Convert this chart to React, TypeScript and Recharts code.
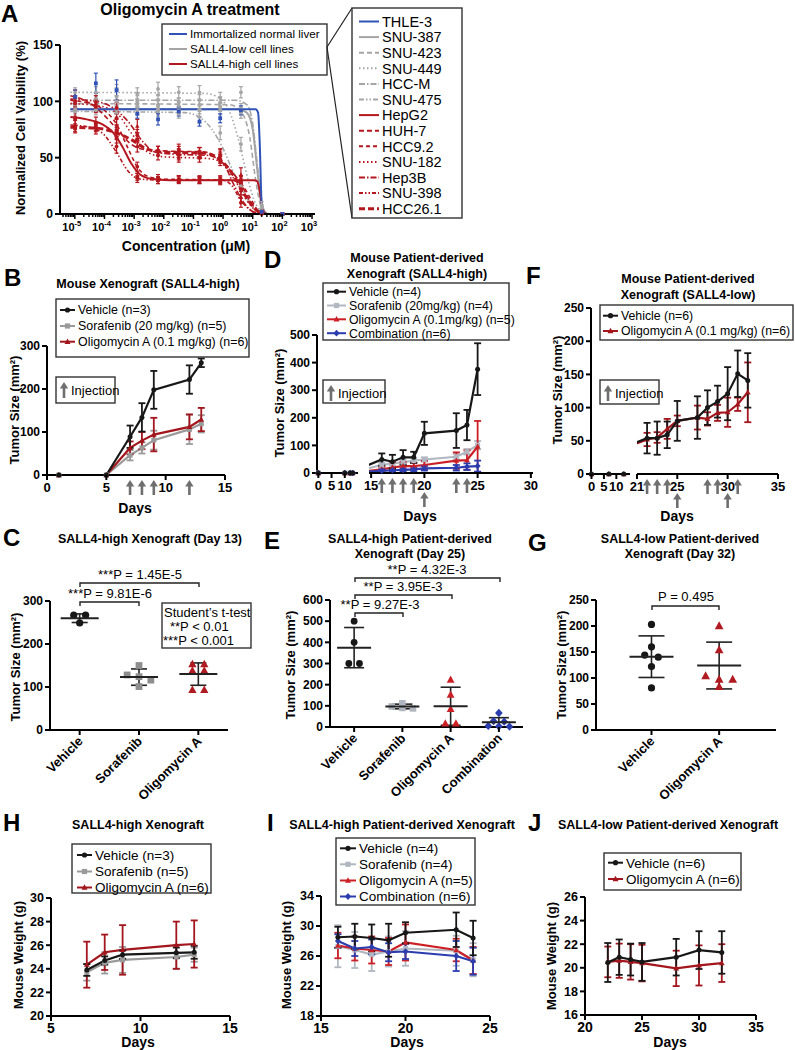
import React from 'react';
import {
  ComposedChart,
  LineChart,
  ScatterChart,
  Line,
  Scatter,
  XAxis,
  YAxis,
  ErrorBar,
} from 'recharts';

const FONT = '"Liberation Sans", Arial, Helvetica, sans-serif';

const INK = '#171717';
const GREY = '#9a9a9a';
const LIGHTGREY = '#b1b7c0';
const DARKRED = '#a3161d';
const RED = '#cc2027';
const BLUE = '#2b3dae';
const ARROW = '#6f6f6f';
const A_BLUE = '#3153b8';
const A_GREY = '#a5a5a5';
const A_RED = '#b5171f';

// ---------- A: dose response ----------
const concUM = [1.024e-5, 5.12e-5, 2.56e-4, 1.28e-3, 6.4e-3, 0.032, 0.16, 0.8, 4, 20, 100];
const aXMajor = [-5, -4, -3, -2, -1, 0, 1, 2, 3];
const aYTicks = [0, 50, 100, 150];

// viability (%) and SD at each concentration
const thle3 = [104, 116, 110, 89, 84, 91, 82, 85, 92, 2, 0];
const thle3Sd = [6, 9, 9, 4, 5, 4, 4, 4, 4, 1, 0];
const snu387 = [93, 96, 93, 92, 93, 92, 93, 92, 94, 5, 0];
const snu387Sd = [4, 5, 4, 3, 4, 3, 4, 4, 4, 2, 0];
const snu423 = [97, 99, 100, 98, 97, 96, 97, 95, 90, 3, 0];
const snu423Sd = [5, 6, 5, 4, 5, 4, 4, 4, 5, 2, 0];
const snu449 = [108, 108, 110, 107, 111, 108, 108, 103, 62, 2, 0];
const snu449Sd = [4, 5, 5, 5, 6, 5, 6, 5, 6, 1, 0];
const hccM = [100, 102, 104, 100, 101, 99, 101, 99, 108, 8, 0];
const hccMSd = [5, 6, 8, 5, 5, 4, 5, 5, 5, 3, 0];
const snu475 = [91, 92, 90, 92, 91, 89, 86, 72, 25, 2, 0];
const snu475Sd = [4, 4, 4, 4, 4, 4, 5, 6, 5, 1, 0];
const hepG2 = [85, 80, 68, 33, 30, 30, 31, 29, 30, 2, 0];
const hepG2Sd = [8, 6, 5, 3, 3, 3, 3, 3, 4, 1, 0];
const huh7 = [104, 95, 78, 60, 56, 57, 55, 52, 35, 1, 0];
const huh7Sd = [6, 5, 6, 5, 4, 5, 4, 6, 6, 1, 0];
const hcc92 = [100, 97, 85, 42, 32, 31, 30, 31, 29, 2, 0];
const hcc92Sd = [5, 5, 6, 4, 3, 3, 3, 3, 4, 1, 0];
const snu182 = [98, 96, 94, 70, 52, 50, 50, 48, 22, 1, 0];
const snu182Sd = [5, 5, 5, 5, 4, 4, 4, 5, 5, 1, 0];
const hep3B = [101, 100, 95, 78, 56, 53, 54, 50, 15, 1, 0];
const hep3BSd = [4, 5, 6, 6, 4, 5, 5, 5, 5, 1, 0];
const snu398 = [78, 76, 60, 32, 30, 31, 30, 30, 10, 0, 0];
const snu398Sd = [5, 5, 6, 4, 3, 3, 3, 3, 4, 0, 0];
const hcc261 = [76, 77, 74, 66, 56, 56, 55, 52, 28, 1, 0];
const hcc261Sd = [4, 4, 5, 6, 4, 4, 4, 5, 6, 1, 0];

// fitted curves: [log10(µM), %]
const fitThle3 = [[-5.15, 93], [1.1, 93], [1.18, 90], [1.24, 60], [1.29, 15], [1.34, 2], [1.45, 0], [2.05, 0]];
const fitSnu387 = [[-5.15, 93], [0.5, 93], [0.8, 90], [1.0, 75], [1.15, 40], [1.3, 8], [1.5, 0]];
const fitSnu423 = [[-5.15, 98], [0.2, 97], [0.6, 91], [0.9, 68], [1.1, 30], [1.3, 5], [1.5, 0]];
const fitSnu449 = [[-5.15, 108], [-0.6, 107], [-0.2, 104], [0.2, 92], [0.5, 68], [0.8, 35], [1.05, 12], [1.3, 2], [1.5, 0]];
const fitHccM = [[-5.15, 101], [0.4, 101], [0.8, 97], [1.0, 80], [1.15, 45], [1.3, 12], [1.45, 0]];
const fitSnu475 = [[-5.15, 91], [-1.3, 90], [-0.8, 86], [-0.4, 76], [0, 58], [0.3, 40], [0.6, 24], [0.9, 10], [1.2, 2], [1.4, 0]];
const fitHepG2 = [[-5.15, 86], [-4.6, 84], [-4.1, 80], [-3.7, 72], [-3.4, 60], [-3.1, 45], [-2.8, 35], [-2.4, 31], [-1.8, 30], [1.05, 30], [1.15, 29], [1.25, 18], [1.33, 4], [1.45, 0]];
const fitHuh7 = [[-5.15, 105], [-4.6, 100], [-4.1, 90], [-3.6, 76], [-3.1, 62], [-2.6, 57], [-2, 56], [-0.6, 55], [-0.2, 50], [0.2, 40], [0.6, 27], [0.9, 12], [1.2, 2], [1.4, 0]];
const fitHcc92 = [[-5.15, 101], [-4.5, 98], [-4, 92], [-3.6, 80], [-3.2, 58], [-2.9, 42], [-2.5, 33], [-2, 31], [0.3, 30], [0.6, 27], [0.9, 15], [1.15, 4], [1.35, 0]];
const fitSnu182 = [[-5.15, 98], [-4.2, 96], [-3.6, 90], [-3.1, 72], [-2.6, 56], [-2.1, 51], [-0.4, 49], [0, 44], [0.4, 30], [0.8, 12], [1.1, 3], [1.3, 0]];
const fitHep3B = [[-5.15, 102], [-4.3, 100], [-3.7, 94], [-3.2, 82], [-2.7, 64], [-2.3, 55], [-1.6, 53], [-0.5, 52], [0, 45], [0.4, 24], [0.7, 10], [1, 2], [1.2, 0]];
const fitSnu398 = [[-5.15, 79], [-4.5, 77], [-4, 70], [-3.6, 55], [-3.2, 38], [-2.8, 31], [-2, 30], [0, 30], [0.3, 25], [0.6, 12], [0.9, 4], [1.2, 0]];
const fitHcc261 = [[-5.15, 77], [-4.2, 76], [-3.6, 72], [-3.1, 66], [-2.6, 58], [-2.1, 55], [-0.6, 54], [-0.2, 50], [0.2, 40], [0.5, 28], [0.8, 14], [1.1, 4], [1.3, 0]];

const aLines = [
  { name: 'THLE-3', vals: thle3, sd: thle3Sd, fit: fitThle3, color: A_BLUE, dash: undefined, w: 2, kind: 'square' },
  { name: 'SNU-387', vals: snu387, sd: snu387Sd, fit: fitSnu387, color: A_GREY, dash: undefined, w: 2, kind: 'circle' },
  { name: 'SNU-423', vals: snu423, sd: snu423Sd, fit: fitSnu423, color: A_GREY, dash: '5 3', w: 1.6, kind: 'circle' },
  { name: 'SNU-449', vals: snu449, sd: snu449Sd, fit: fitSnu449, color: A_GREY, dash: '1.5 2.5', w: 1.6, kind: 'circle' },
  { name: 'HCC-M', vals: hccM, sd: hccMSd, fit: fitHccM, color: A_GREY, dash: '6 2 1.5 2', w: 1.6, kind: 'circle' },
  { name: 'SNU-475', vals: snu475, sd: snu475Sd, fit: fitSnu475, color: A_GREY, dash: '5 2 1.5 2 1.5 2', w: 1.6, kind: 'circle' },
  { name: 'HepG2', vals: hepG2, sd: hepG2Sd, fit: fitHepG2, color: A_RED, dash: undefined, w: 2, kind: 'square' },
  { name: 'HUH-7', vals: huh7, sd: huh7Sd, fit: fitHuh7, color: A_RED, dash: '5 3', w: 1.6, kind: 'triangle' },
  { name: 'HCC9.2', vals: hcc92, sd: hcc92Sd, fit: fitHcc92, color: A_RED, dash: '4 3', w: 1.6, kind: 'circle' },
  { name: 'SNU-182', vals: snu182, sd: snu182Sd, fit: fitSnu182, color: A_RED, dash: '1.5 2.5', w: 1.6, kind: 'circle' },
  { name: 'Hep3B', vals: hep3B, sd: hep3BSd, fit: fitHep3B, color: A_RED, dash: '6 2 1.5 2', w: 1.6, kind: 'triangle' },
  { name: 'SNU-398', vals: snu398, sd: snu398Sd, fit: fitSnu398, color: A_RED, dash: '4 2 1.5 2 1.5 2', w: 1.6, kind: 'circle' },
  { name: 'HCC26.1', vals: hcc261, sd: hcc261Sd, fit: fitHcc261, color: A_RED, dash: '6 3', w: 3, kind: 'square' },
];

// ---------- B ----------
const bDays = [1, 5, 7, 8, 9, 12, 13];
const bVehicle = [0, 0, 89, 134, 198, 222, 261];
const bVehicleSd = [0, 0, 26, 33, 44, 33, 10];
const bSorafenib = [0, 0, 46, 63, 81, 106, 119];
const bSorafenibSd = [0, 0, 12, 13, 22, 34, 20];
const bOligomycin = [0, 0, 63, 80, 94, 112, 129];
const bOligomycinSd = [0, 0, 15, 20, 39, 29, 27];
const bInjections = [7, 8, 9, 12];

// ---------- D ----------
const dDays = [0, 10, 12, 13, 16, 17, 18, 19, 20, 23, 24, 25];
const dVehicle = [0, 0, 0, 0, 48, 40, 56, 56, 143, 153, 173, 376];
const dVehicleSd = [0, 0, 0, 0, 22, 25, 26, 20, 42, 63, 55, 94];
const dSorafenib = [0, 0, 0, 0, 28, 34, 38, 44, 48, 58, 76, 100];
const dSorafenibSd = [0, 0, 0, 0, 8, 8, 8, 8, 8, 10, 10, 15];
const dOligomycin = [0, 0, 0, 0, 12, 19, 24, 24, 28, 44, 46, 95];
const dOligomycinSd = [0, 0, 0, 0, 10, 20, 15, 12, 15, 30, 35, 93];
const dCombination = [0, 0, 0, 0, 7, 9, 10, 12, 16, 18, 22, 24];
const dCombinationSd = [0, 0, 0, 0, 5, 6, 6, 6, 8, 10, 12, 20];
const dInjections = [16, 17, 18, 19, 23, 24];
const dInjectionsLow = [20];

// ---------- F ----------
const fDays = [0, 7, 13, 22, 23, 24, 25, 27, 28, 29, 30, 31, 32];
const fVehicle = [0, 0, 0, 54, 54, 59, 80, 85, 100, 109, 121, 151, 141];
const fVehicleSd = [0, 0, 0, 23, 25, 20, 30, 32, 26, 24, 40, 35, 41];
const fOligomycin = [0, 0, 0, 52, 55, 68, 80, 85, 83, 92, 93, 105, 123];
const fOligomycinSd = [0, 0, 0, 10, 8, 15, 8, 18, 10, 12, 22, 10, 45];
const fInjections = [22, 23, 24, 28, 29, 31];
const fInjectionsLow = [25, 30];

// ---------- C / E / G ----------
const cGroups = ['Vehicle', 'Sorafenib', 'Oligomycin A'];
const cVehicle = [267, 267, 249];
const cSorafenib = [150, 128, 124, 116, 101];
const cOligomycin = [153, 153, 138, 138, 93, 93];
const cMean = [260, 123, 130];
const cSd = [10, 19, 26];

const eGroups = ['Vehicle', 'Sorafenib', 'Oligomycin A', 'Combination'];
const eVehicle = [500, 400, 300, 300];
const eSorafenib = [112, 97, 90, 88];
const eOligomycin = [223, 152, 85, 16, 16];
const eCombination = [66, 28, 25, 5, 3, 2];
const eMean = [375, 97, 98, 22];
const eSd = [95, 11, 90, 22];

const gGroups = ['Vehicle', 'Oligomycin A'];
const gVehicle = [203, 160, 144, 140, 122, 81];
const gOligomycin = [200, 154, 104, 97, 97, 83];
const gMean = [141, 124];
const gSd = [40, 45];

// ---------- H / I / J ----------
const hDays = [7, 8, 9, 12, 13];
const hVehicle = [23.9, 24.7, 25.2, 25.35, 25.4];
const hVehicleSd = [0.5, 0.35, 0.35, 0.45, 0.55];
const hSorafenib = [23.7, 24.5, 24.75, 25.0, 25.2];
const hSorafenibSd = [0.7, 0.9, 1.1, 1.0, 0.6];
const hOligomycin = [24.35, 25.4, 25.6, 26.0, 26.1];
const hOligomycinSd = [1.95, 1.5, 2.1, 2.0, 2.0];

const iDays = [16, 17, 18, 19, 20, 23, 24];
const iVehicle = [28.5, 28.6, 28.4, 28.1, 29.1, 29.5, 28.4];
const iVehicleSd = [1.4, 1.7, 1.8, 2.2, 1.4, 2.3, 2.3];
const iSorafenib = [27.3, 26.8, 26.2, 26.6, 27.0, 26.7, 25.5];
const iSorafenibSd = [2.8, 2.4, 2.2, 2.0, 2.3, 2.0, 2.2];
const iOligomycin = [27.4, 27.0, 26.8, 26.6, 27.8, 26.8, 25.4];
const iOligomycinSd = [1.7, 1.6, 1.8, 1.8, 2.4, 1.5, 1.8];
const iCombination = [28.0, 27.0, 27.2, 26.5, 26.6, 26.0, 25.3];
const iCombinationSd = [0.9, 1.0, 1.0, 1.2, 1.0, 2.0, 1.8];

const jDays = [22, 23, 24, 25, 28, 30, 32];
const jVehicle = [20.45, 20.9, 20.7, 20.5, 20.9, 21.5, 21.3];
const jVehicleSd = [1.65, 1.5, 1.35, 1.6, 1.55, 1.6, 1.8];
const jOligomycin = [20.5, 20.6, 20.5, 20.4, 19.95, 20.2, 20.4];
const jOligomycinSd = [1.3, 1.45, 1.5, 1.55, 1.5, 1.7, 1.6];

// ---------- tables ----------
const bRows = bDays.map((day, i) => ({
  day, veh: bVehicle[i], vehE: bVehicleSd[i], sor: bSorafenib[i], sorE: bSorafenibSd[i], oli: bOligomycin[i], oliE: bOligomycinSd[i],
}));
const dRows = dDays.map((day, i) => ({
  day, veh: dVehicle[i], vehE: dVehicleSd[i], sor: dSorafenib[i], sorE: dSorafenibSd[i],
  oli: dOligomycin[i], oliE: dOligomycinSd[i], com: dCombination[i], comE: dCombinationSd[i],
}));
const fRows = fDays.map((day, i) => ({
  day, veh: fVehicle[i], vehE: fVehicleSd[i], oli: fOligomycin[i], oliE: fOligomycinSd[i],
}));
const hRows = hDays.map((day, i) => ({
  day, veh: hVehicle[i], vehE: hVehicleSd[i], sor: hSorafenib[i], sorE: hSorafenibSd[i], oli: hOligomycin[i], oliE: hOligomycinSd[i],
}));
const iRows = iDays.map((day, i) => ({
  day, veh: iVehicle[i], vehE: iVehicleSd[i], sor: iSorafenib[i], sorE: iSorafenibSd[i],
  oli: iOligomycin[i], oliE: iOligomycinSd[i], com: iCombination[i], comE: iCombinationSd[i],
}));
const jRows = jDays.map((day, i) => ({
  day, veh: jVehicle[i], vehE: jVehicleSd[i], oli: jOligomycin[i], oliE: jOligomycinSd[i],
}));

// ---------- layout helpers ----------
const YW = 40;
const MT = 10;
const MR = 10;
function frame(l, t, r, b, xh = 44, hideY = false) {
  return {
    left: l - YW,
    top: t - MT,
    width: r - l + YW + MR,
    height: b - t + MT + xh,
    xh,
    margin: { top: MT, right: MR, bottom: 0, left: hideY ? YW : 0 },
  };
}

const AXIS = { stroke: '#000', strokeWidth: 2 };
const ytick = (s = 12) => ({ fill: '#000', fontSize: s, fontWeight: 700, fontFamily: FONT });

function Marker({ kind, cx, cy, color, s = 2.6 }: any) {
  if (cx == null || cy == null || isNaN(cx) || isNaN(cy)) return null;
  if (kind === 'square') return <rect x={cx - s} y={cy - s} width={2 * s} height={2 * s} fill={color} />;
  if (kind === 'triangle')
    return (
      <polygon
        points={`${cx},${cy - s * 1.25} ${cx - s * 1.15},${cy + s * 0.85} ${cx + s * 1.15},${cy + s * 0.85}`}
        fill={color}
      />
    );
  if (kind === 'diamond')
    return <polygon points={`${cx},${cy - s * 1.3} ${cx + s * 1.2},${cy} ${cx},${cy + s * 1.3} ${cx - s * 1.2},${cy}`} fill={color} />;
  return <circle cx={cx} cy={cy} r={s} fill={color} />;
}

function Arrow({ x, y1, y2 }: any) {
  return (
    <g>
      <line x1={x} x2={x} y1={y1 + 5} y2={y2} stroke={ARROW} strokeWidth={2.6} />
      <polygon points={`${x},${y1} ${x - 4.2},${y1 + 6.5} ${x + 4.2},${y1 + 6.5}`} fill={ARROW} />
    </g>
  );
}

function dayTick(labels: number[], inj: number[] = [], low: number[] = [], fs = 13) {
  return (p: any) => {
    const { x, payload } = p;
    const v = payload.value;
    const ay = p.y - 5;
    const isLabel = labels.includes(v);
    return (
      <g>
        {isLabel && <line x1={x} x2={x} y1={ay} y2={ay + 5} stroke="#000" strokeWidth={2} />}
        {isLabel && (
          <text x={x} y={ay + 16.5} textAnchor="middle" fontSize={fs} fontWeight={700} fill="#000" fontFamily={FONT}>
            {v}
          </text>
        )}
        {inj.includes(v) && <Arrow x={x} y1={ay + 5} y2={ay + 20} />}
        {low.includes(v) && <Arrow x={x} y1={ay + 19} y2={ay + 34} />}
      </g>
    );
  };
}

function logTick(p: any) {
  const { x, payload } = p;
  const v = payload.value;
  const ay = p.y - 5;
  const major = Math.abs(v - Math.round(v)) < 1e-6;
  return (
    <g>
      <line x1={x} x2={x} y1={ay} y2={ay + (major ? 5 : 3)} stroke="#000" strokeWidth={1.5} />
      {major && (
        <text x={x - 3} y={ay + 17} textAnchor="middle" fontSize={11} fontWeight={700} fill="#000" fontFamily={FONT}>
          10
          <tspan dy={-5} fontSize={7.5}>
            {Math.round(v)}
          </tspan>
        </text>
      )}
    </g>
  );
}

function catTick(names: string[], fs = 13) {
  return (p: any) => {
    const { x, payload } = p;
    const ay = p.y - 5;
    const name = names[Math.round(payload.value) - 1];
    const tx = x + 4;
    const ty = ay + 12;
    return (
      <g>
        <line x1={x} x2={x} y1={ay} y2={ay + 5} stroke="#000" strokeWidth={2} />
        <text x={tx} y={ty} transform={`rotate(-45 ${tx} ${ty})`} textAnchor="end" fontSize={fs} fontWeight={700} fill="#000" fontFamily={FONT}>
          {name}
        </text>
      </g>
    );
  };
}

// places equal-ish values side by side, the way a dot plot does
function spread(vals: number[], g: number, tol: number, step: number) {
  const used = vals.map(() => false);
  const out: any[] = [];
  vals.forEach((v, i) => {
    if (used[i]) return;
    const cl = vals.map((_, j) => j).filter((j) => !used[j] && Math.abs(vals[j] - v) <= tol);
    cl.forEach((j, k) => {
      used[j] = true;
      out.push({ x: g + (k - (cl.length - 1) / 2) * step, y: vals[j] });
    });
  });
  return out;
}

function TimeChart({ f, data, series, xDomain, ticks, tick, yDomain, yTicks, hideY = false, clip = false, ys = 12 }: any) {
  return (
    <div style={{ position: 'absolute', left: f.left, top: f.top }}>
      <LineChart width={f.width} height={f.height} data={data} margin={f.margin}>
        <XAxis
          type="number"
          dataKey="day"
          domain={xDomain}
          ticks={ticks}
          interval={0}
          tick={tick}
          tickLine={false}
          tickSize={5}
          tickMargin={0}
          axisLine={AXIS}
          height={f.xh}
          allowDataOverflow={clip}
        />
        <YAxis
          type="number"
          domain={yDomain}
          ticks={yTicks}
          interval={0}
          width={YW}
          hide={hideY}
          tick={ytick(ys)}
          tickSize={5}
          tickMargin={2}
          tickLine={AXIS}
          axisLine={AXIS}
        />
        {series.map((s: any) => (
          <Line
            key={s.key}
            dataKey={s.key}
            stroke={s.color}
            strokeWidth={2.2}
            isAnimationActive={false}
            dot={(p: any) => <Marker key={`${s.key}-${p.index}`} kind={s.kind} cx={p.cx} cy={p.cy} color={s.color} s={2.5} />}
            activeDot={false}
          >
            <ErrorBar dataKey={s.err} width={3.5} stroke={s.color} strokeWidth={1.8} direction="y" />
          </Line>
        ))}
      </LineChart>
    </div>
  );
}

function DotPlot({ f, names, xDomain, yDomain, yTicks, groups, means, sds, tol, step, meanHalf, capHalf }: any) {
  const meanRows = means.map((m: number, i: number) => ({ x: i + 1, y: m, sd: sds[i] }));
  return (
    <div style={{ position: 'absolute', left: f.left, top: f.top }}>
      <ScatterChart width={f.width} height={f.height} margin={f.margin}>
        <XAxis
          type="number"
          dataKey="x"
          domain={xDomain}
          ticks={names.map((_: any, i: number) => i + 1)}
          interval={0}
          tick={catTick(names)}
          tickLine={false}
          tickSize={5}
          tickMargin={0}
          axisLine={AXIS}
          height={f.xh}
        />
        <YAxis
          type="number"
          dataKey="y"
          domain={yDomain}
          ticks={yTicks}
          interval={0}
          width={YW}
          tick={ytick(12)}
          tickSize={5}
          tickMargin={2}
          tickLine={AXIS}
          axisLine={AXIS}
        />
        {groups.map((g: any, i: number) => (
          <Scatter
            key={names[i]}
            data={spread(g.vals, i + 1, tol, step)}
            isAnimationActive={false}
            shape={(p: any) => <Marker kind={g.kind} cx={p.cx} cy={p.cy} color={g.color} s={g.s} />}
          />
        ))}
        <Scatter
          data={meanRows}
          isAnimationActive={false}
          shape={(p: any) => (
            <line x1={p.cx - meanHalf} x2={p.cx + meanHalf} y1={p.cy} y2={p.cy} stroke="#222" strokeWidth={2} />
          )}
        >
          <ErrorBar dataKey="sd" direction="y" width={capHalf} stroke="#222" strokeWidth={1.6} />
        </Scatter>
      </ScatterChart>
    </div>
  );
}

function PanelA() {
  const f = frame(60, 45, 315, 214, 40);
  const minor: number[] = [];
  for (let e = -6; e < 4; e++) {
    for (let k = 2; k <= 9; k++) {
      const v = e + Math.log10(k);
      if (v > -5.5 && v < 3.1) minor.push(v);
    }
  }
  const drawOrder = [...aLines.slice(1, 6), ...aLines.slice(6), aLines[0]];
  return (
    <div style={{ position: 'absolute', left: f.left, top: f.top }}>
      <ComposedChart width={f.width} height={f.height} margin={f.margin}>
        <XAxis
          type="number"
          dataKey="x"
          domain={[-5.5, 3.1]}
          ticks={[...aXMajor, ...minor]}
          interval={0}
          tick={logTick}
          tickLine={false}
          tickSize={5}
          tickMargin={0}
          axisLine={AXIS}
          height={f.xh}
        />
        <YAxis
          type="number"
          dataKey="y"
          domain={[0, 150]}
          ticks={aYTicks}
          interval={0}
          width={YW}
          tick={ytick(12)}
          tickSize={5}
          tickMargin={2}
          tickLine={AXIS}
          axisLine={AXIS}
        />
        {drawOrder.map((c) => (
          <Line
            key={`fit-${c.name}`}
            data={c.fit.map(([x, y]) => ({ x, y }))}
            dataKey="y"
            type="monotone"
            stroke={c.color}
            strokeWidth={c.w}
            strokeDasharray={c.dash}
            dot={false}
            activeDot={false}
            isAnimationActive={false}
          />
        ))}
        {drawOrder.map((c) => (
          <Scatter
            key={`pts-${c.name}`}
            data={concUM.map((u, i) => ({ x: Math.log10(u), y: c.vals[i], e: c.sd[i] }))}
            dataKey="y"
            isAnimationActive={false}
            shape={(p: any) => <Marker kind={c.kind} cx={p.cx} cy={p.cy} color={c.color} s={1.9} />}
          >
            <ErrorBar dataKey="e" direction="y" width={2} stroke={c.color} strokeWidth={1.2} />
          </Scatter>
        ))}
      </ComposedChart>
    </div>
  );
}

// ---------- overlay text ----------
function T({ x, y, s = 12.5, b = true, a = 'middle', r = 0, c = '#000', children }: any) {
  return (
    <text
      x={x}
      y={y}
      fontSize={s}
      fontWeight={b ? 700 : 400}
      textAnchor={a}
      fill={c}
      fontFamily={FONT}
      transform={r ? `rotate(${r} ${x} ${y})` : undefined}
    >
      {children}
    </text>
  );
}

function Row({ x, y, w, color, kind, label, s = 13, dash, lw = 2 }: any) {
  return (
    <g>
      <line x1={x} x2={x + w} y1={y} y2={y} stroke={color} strokeWidth={lw} strokeDasharray={dash} />
      {kind && <Marker kind={kind} cx={x + w / 2} cy={y} color={color} s={2.6} />}
      <T x={x + w + 3} y={y + s * 0.36} s={s} b={false} a="start">
        {label}
      </T>
    </g>
  );
}

function Box({ x1, y1, x2, y2 }: any) {
  return <rect x={x1} y={y1} width={x2 - x1} height={y2 - y1} fill="#fff" stroke="#333" strokeWidth={1.4} />;
}

function Bracket({ x1, x2, y, d = 4 }: any) {
  return <path d={`M${x1},${y + d} V${y} H${x2} V${y + d}`} fill="none" stroke="#222" strokeWidth={1.4} />;
}

function InjectionBox({ x1, y1, x2, y2 }: any) {
  return (
    <g>
      <Box x1={x1} y1={y1} x2={x2} y2={y2} />
      <Arrow x={x1 + 8} y1={y1 + 5} y2={y1 + 21} />
      <T x={x1 + 15} y={y1 + 17.5} s={13} b={false} a="start">
        Injection
      </T>
    </g>
  );
}

function Overlay() {
  const aRowY = (i: number) => 21.5 + i * 15.6;
  return (
    <svg
      width={795}
      height={1050}
      style={{ position: 'absolute', left: 0, top: 0, pointerEvents: 'none', zIndex: 5 }}
      fontFamily={FONT}
    >
      {/* panel letters */}
      <T x={1} y={22} s={24} a="start">A</T>
      <T x={4} y={286} s={24} a="start">B</T>
      <T x={264} y={268} s={24} a="start">D</T>
      <T x={526} y={284} s={24} a="start">F</T>
      <T x={3} y={546} s={24} a="start">C</T>
      <T x={264} y={549} s={24} a="start">E</T>
      <T x={528} y={551} s={24} a="start">G</T>
      <T x={3} y={831} s={24} a="start">H</T>
      <T x={267} y={831} s={24} a="start">I</T>
      <T x={528} y={831} s={24} a="start">J</T>

      {/* A */}
      <T x={190} y={15} s={16}>Oligomycin A treatment</T>
      <T x={25} y={128} s={13} r={-90}>Normalized Cell Vaibility (%)</T>
      <T x={186} y={251} s={14}>Concentration (μM)</T>
      <Box x1={162} y1={24} x2={327} y2={75} />
      <Row x={169} y={34} w={18} color={A_BLUE} label="Immortalized normal liver" s={11.6} />
      <Row x={169} y={49} w={18} color={A_GREY} label="SALL4-low cell lines" s={11.6} />
      <Row x={169} y={64} w={18} color={A_RED} label="SALL4-high cell lines" s={11.6} />
      <line x1={327} y1={47} x2={352} y2={8} stroke="#222" strokeWidth={1.2} />
      <line x1={327} y1={47} x2={352} y2={218} stroke="#222" strokeWidth={1.2} />
      <Box x1={352} y1={8} x2={462} y2={218} />
      {aLines.map((c, i) => (
        <Row key={c.name} x={359} y={aRowY(i)} w={20} color={c.color} label={c.name} s={14.5} dash={c.dash} lw={c.w === 3 ? 3 : 2} />
      ))}

      {/* B */}
      <T x={148} y={288}>Mouse Xenograft (SALL4-high)</T>
      <T x={19} y={410} s={13} r={-90}>Tumor Size (mm²)</T>
      <T x={135} y={513} s={14}>Days</T>
      <Box x1={56} y1={299} x2={249} y2={357} />
      <Row x={60} y={310} w={15} color={INK} kind="circle" label="Vehicle (n=3)" s={12.4} />
      <Row x={60} y={326} w={15} color={GREY} kind="square" label="Sorafenib (20 mg/kg) (n=5)" s={12.4} />
      <Row x={60} y={341.7} w={15} color={DARKRED} kind="triangle" label="Oligomycin A (0.1 mg/kg) (n=6)" s={12.4} />
      <InjectionBox x1={56} y1={377} x2={115} y2={403} />

      {/* D */}
      <T x={417} y={262}>Mouse Patient-derived</T>
      <T x={417} y={278}>Xenograft (SALL4-high)</T>
      <T x={284} y={403} s={13} r={-90}>Tumor Size (mm²)</T>
      <T x={420} y={521} s={14}>Days</T>
      <Box x1={323} y1={283} x2={509} y2={340} />
      <Row x={327} y={291.7} w={19} color={INK} kind="circle" label="Vehicle (n=4)" s={12.3} />
      <Row x={327} y={305.5} w={19} color={LIGHTGREY} kind="square" label="Sorafenib (20mg/kg) (n=4)" s={12.3} />
      <Row x={327} y={319.3} w={19} color={RED} kind="triangle" label="Oligomycin A (0.1mg/kg) (n=5)" s={12.3} />
      <Row x={327} y={333.2} w={19} color={BLUE} kind="diamond" label="Combination (n=6)" s={12.3} />
      <InjectionBox x1={323} y1={380} x2={385} y2={403} />

      {/* F */}
      <T x={688} y={283}>Mouse Patient-derived</T>
      <T x={688} y={299}>Xenograft (SALL4-low)</T>
      <T x={562} y={390} s={13} r={-90}>Tumor Size (mm²)</T>
      <T x={677} y={521} s={14}>Days</T>
      <Box x1={600} y1={305} x2={793} y2={340} />
      <Row x={603} y={315.7} w={15} color={INK} kind="circle" label="Vehicle (n=6)" s={12.3} />
      <Row x={603} y={331} w={15} color={DARKRED} kind="triangle" label="Oligomycin A (0.1 mg/kg) (n=6)" s={12.3} />
      <InjectionBox x1={600} y1={380} x2={659} y2={404} />

      {/* C */}
      <T x={150} y={543}>SALL4-high Xenograft (Day 13)</T>
      <T x={20} y={667} s={13} r={-90}>Tumor Size (mm²)</T>
      <Bracket x1={80} x2={199} y={583} />
      <T x={140} y={579} s={13} b={false}>***P = 1.45E-5</T>
      <Bracket x1={80} x2={139} y={602} />
      <T x={110} y={598} s={13} b={false}>***P = 9.81E-6</T>
      <Box x1={162} y1={603} x2={251} y2={648} />
      <T x={164} y={617} s={13} b={false} a="start">Student’s t-test</T>
      <T x={170} y={631} s={13} b={false} a="start">**P &lt; 0.01</T>
      <T x={163} y={645} s={13} b={false} a="start">***P &lt; 0.001</T>

      {/* E */}
      <T x={410} y={543}>SALL4-high Patient-derived</T>
      <T x={410} y={558}>Xenograft (Day 25)</T>
      <T x={295} y={665} s={13} r={-90}>Tumor Size (mm²)</T>
      <Bracket x1={355} x2={500} y={578} />
      <T x={427} y={574} s={13} b={false}>**P = 4.32E-3</T>
      <Bracket x1={355} x2={452} y={595} />
      <T x={403} y={591} s={13} b={false}>**P = 3.95E-3</T>
      <Bracket x1={355} x2={403} y={613} />
      <T x={380} y={609} s={13} b={false}>**P = 9.27E-3</T>

      {/* G */}
      <T x={680} y={543}>SALL4-low Patient-derived</T>
      <T x={680} y={558}>Xenograft (Day 32)</T>
      <T x={566} y={665} s={13} r={-90}>Tumor Size (mm²)</T>
      <Bracket x1={652} x2={719} y={606} />
      <T x={686} y={601} s={13} b={false}>P = 0.495</T>

      {/* H */}
      <T x={138} y={829}>SALL4-high Xenograft</T>
      <T x={23} y={955} s={13} r={-90}>Mouse Weight (g)</T>
      <T x={138} y={1047} s={14}>Days</T>
      <Box x1={72} y1={844} x2={211} y2={893} />
      <Row x={77} y={855} w={15} color={INK} kind="circle" label="Vehicle (n=3)" s={13.5} />
      <Row x={77} y={871.5} w={15} color={GREY} kind="square" label="Sorafenib (n=5)" s={13.5} />
      <Row x={77} y={887.5} w={15} color={DARKRED} kind="triangle" label="Oligomycin A (n=6)" s={13.5} />

      {/* I */}
      <T x={402} y={829}>SALL4-high Patient-derived Xenograft</T>
      <T x={291} y={955} s={13} r={-90}>Mouse Weight (g)</T>
      <T x={407} y={1047} s={14}>Days</T>
      <Box x1={336} y1={838} x2={475} y2={905} />
      <Row x={340} y={848.3} w={16} color={INK} kind="circle" label="Vehicle (n=4)" s={13.5} />
      <Row x={340} y={864.3} w={16} color={LIGHTGREY} kind="square" label="Sorafenib (n=4)" s={13.5} />
      <Row x={340} y={880.5} w={16} color={RED} kind="triangle" label="Oligomycin A (n=5)" s={13.5} />
      <Row x={340} y={896.5} w={16} color={BLUE} kind="diamond" label="Combination (n=6)" s={13.5} />

      {/* J */}
      <T x={668} y={829}>SALL4-low Patient-derived Xenograft</T>
      <T x={556} y={956} s={13} r={-90}>Mouse Weight (g)</T>
      <T x={670} y={1047} s={14}>Days</T>
      <Box x1={604} y1={853} x2={741} y2={890} />
      <Row x={608} y={862.7} w={15} color={INK} kind="circle" label="Vehicle (n=6)" s={13.5} />
      <Row x={608} y={879} w={15} color={DARKRED} kind="triangle" label="Oligomycin A (n=6)" s={13.5} />
    </svg>
  );
}

const bSeries = [
  { key: 'sor', err: 'sorE', color: GREY, kind: 'square' },
  { key: 'oli', err: 'oliE', color: DARKRED, kind: 'triangle' },
  { key: 'veh', err: 'vehE', color: INK, kind: 'circle' },
];
const dSeries = [
  { key: 'sor', err: 'sorE', color: LIGHTGREY, kind: 'square' },
  { key: 'oli', err: 'oliE', color: RED, kind: 'triangle' },
  { key: 'com', err: 'comE', color: BLUE, kind: 'diamond' },
  { key: 'veh', err: 'vehE', color: INK, kind: 'circle' },
];
const fSeries = [
  { key: 'oli', err: 'oliE', color: DARKRED, kind: 'triangle' },
  { key: 'veh', err: 'vehE', color: INK, kind: 'circle' },
];

export default function App() {
  return (
    <div
      style={{ position: 'absolute', left: 0, top: 0, width: 795, height: 1050, background: '#fff', overflow: 'hidden', fontFamily: FONT }}
    >
      <PanelA />

      <TimeChart
        f={frame(47, 346, 225, 475)}
        data={bRows}
        series={bSeries}
        xDomain={[0, 15]}
        ticks={[0, 5, 10, 15, ...bInjections]}
        tick={dayTick([0, 5, 10, 15], bInjections)}
        yDomain={[0, 300]}
        yTicks={[0, 100, 200, 300]}
      />

      <TimeChart
        f={frame(317, 335, 358, 473)}
        data={dRows.filter((r) => r.day <= 13)}
        series={dSeries}
        xDomain={[-0.5, 15]}
        ticks={[0, 5, 10]}
        tick={dayTick([0, 5, 10])}
        yDomain={[0, 500]}
        yTicks={[0, 100, 200, 300, 400, 500]}
      />
      <TimeChart
        f={frame(369, 335, 533, 473, 44, true)}
        data={dRows.filter((r) => r.day >= 13)}
        series={dSeries}
        xDomain={[14.8, 30.2]}
        ticks={[15, 20, 25, 30, ...dInjections]}
        tick={dayTick([15, 20, 25, 30], dInjections, dInjectionsLow)}
        yDomain={[0, 500]}
        yTicks={[0, 100, 200, 300, 400, 500]}
        hideY
        clip
      />

      <TimeChart
        f={frame(591, 308, 630, 474)}
        data={fRows.filter((r) => r.day <= 13)}
        series={fSeries}
        xDomain={[-0.2, 15.5]}
        ticks={[0, 5, 10]}
        tick={dayTick([0, 5, 10])}
        yDomain={[0, 250]}
        yTicks={[0, 50, 100, 150, 200, 250]}
      />
      <TimeChart
        f={frame(637, 308, 778, 474, 44, true)}
        data={fRows.filter((r) => r.day >= 13)}
        series={fSeries}
        xDomain={[21, 35]}
        ticks={[21, 25, 30, 35, ...fInjections]}
        tick={dayTick([21, 25, 30, 35], fInjections, fInjectionsLow)}
        yDomain={[0, 250]}
        yTicks={[0, 50, 100, 150, 200, 250]}
        hideY
        clip
      />

      <DotPlot
        f={frame(50, 601, 228, 730, 95)}
        names={cGroups}
        xDomain={[0.5, 3.5]}
        yDomain={[0, 300]}
        yTicks={[0, 100, 200, 300]}
        groups={[
          { vals: cVehicle, kind: 'circle', color: INK, s: 3.6 },
          { vals: cSorafenib, kind: 'square', color: '#8e8e8e', s: 3.4 },
          { vals: cOligomycin, kind: 'triangle', color: '#b01a21', s: 3.6 },
        ]}
        means={cMean}
        sds={cSd}
        tol={13}
        step={0.2}
        meanHalf={19}
        capHalf={8}
      />
      <DotPlot
        f={frame(330, 600, 523, 727, 95)}
        names={eGroups}
        xDomain={[0.5, 4.5]}
        yDomain={[0, 600]}
        yTicks={[0, 100, 200, 300, 400, 500, 600]}
        groups={[
          { vals: eVehicle, kind: 'circle', color: INK, s: 3.4 },
          { vals: eSorafenib, kind: 'square', color: LIGHTGREY, s: 3.3 },
          { vals: eOligomycin, kind: 'triangle', color: RED, s: 3.4 },
          { vals: eCombination, kind: 'diamond', color: BLUE, s: 3.2 },
        ]}
        means={eMean}
        sds={eSd}
        tol={12}
        step={0.22}
        meanHalf={17}
        capHalf={10}
      />
      <DotPlot
        f={frame(596, 600, 776, 730, 95)}
        names={gGroups}
        xDomain={[0.18, 2.84]}
        yDomain={[0, 250]}
        yTicks={[0, 50, 100, 150, 200, 250]}
        groups={[
          { vals: gVehicle, kind: 'circle', color: INK, s: 3.6 },
          { vals: gOligomycin, kind: 'triangle', color: '#b01a21', s: 3.8 },
        ]}
        means={gMean}
        sds={gSd}
        tol={10}
        step={0.2}
        meanHalf={22}
        capHalf={13}
      />

      <TimeChart
        f={frame(51, 898, 230, 1016, 30)}
        data={hRows}
        series={bSeries}
        xDomain={[5, 15]}
        ticks={[5, 10, 15]}
        tick={dayTick([5, 10, 15], [], [], 14)}
        yDomain={[20, 30]}
        yTicks={[20, 22, 24, 26, 28, 30]}
        ys={12.5}
      />
      <TimeChart
        f={frame(321, 896, 490, 1016, 30)}
        data={iRows}
        series={dSeries}
        xDomain={[15, 25]}
        ticks={[15, 20, 25]}
        tick={dayTick([15, 20, 25], [], [], 14)}
        yDomain={[18, 34]}
        yTicks={[18, 22, 26, 30, 34]}
        ys={12.5}
      />
      <TimeChart
        f={frame(585, 897, 756, 1015, 30)}
        data={jRows}
        series={fSeries}
        xDomain={[20, 35]}
        ticks={[20, 25, 30, 35]}
        tick={dayTick([20, 25, 30, 35], [], [], 14)}
        yDomain={[16, 26]}
        yTicks={[16, 18, 20, 22, 24, 26]}
        ys={12.5}
      />

      <Overlay />
    </div>
  );
}
